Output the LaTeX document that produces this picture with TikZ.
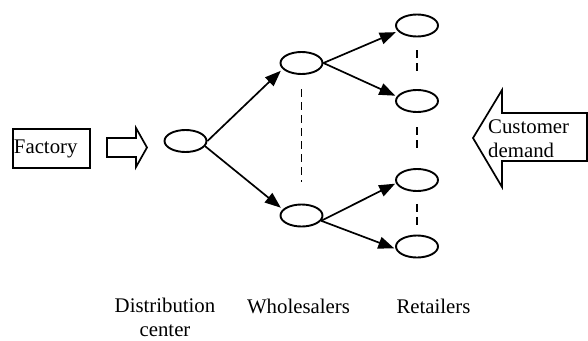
\documentclass[tikz,border=0pt]{standalone}
\usepackage{fontspec}
\setmainfont{Liberation Serif}
\usetikzlibrary{arrows.meta,shapes.geometric}
\begin{document}
\begin{tikzpicture}[x=1pt,y=-1pt,
  txt/.style={font=\fontsize{20.8}{23.5}\selectfont, inner sep=0pt},
  stage/.style={ellipse, draw, line width=1.9pt, minimum width=42pt, minimum height=22pt, inner sep=0pt},
  flow/.style={line width=1.7pt, -{Triangle[length=16pt,width=12pt]}},
  link/.style={line width=1.8pt, dash pattern=on 8pt off 5pt},
  block/.style={line width=1.7pt, line join=miter}]
\useasboundingbox (0,0) rectangle (588,340);

% supply chain stages
\node[stage] (dc) at (185.5,141) {};
\node[stage] (w1) at (301.5,63) {};
\node[stage] (w2) at (301.5,215.5) {};
\node[stage] (r1) at (417,25.5) {};
\node[stage] (r2) at (417,101) {};
\node[stage] (r3) at (417,180) {};
\node[stage] (r4) at (417,246.5) {};

% factory box
\node[txt, draw, line width=1.9pt, minimum width=77pt, minimum height=39pt,
      anchor=north west, align=left, text width=75pt, inner xsep=1pt] (factory) at (12,128) {Factory};

% block arrow from the factory
\draw[block] (107,138) -- (136,138) -- (136,128) -- (147,147.5) -- (136,167)
  -- (136,157) -- (107,157) -- cycle;

% customer demand block arrow
\draw[block] (587,113) -- (502,113) -- (502,90) -- (473,138) -- (502,187)
  -- (502,161) -- (587,161) -- cycle;
\node[txt, anchor=base west, align=left] (cd) at (488,157) {Customer\\demand};

% flows between stages
\draw[flow] (dc.east) -- ([xshift=-4pt]w1.205);
\draw[flow] (dc.-15) -- ([xshift=-4pt]w2.155);
\draw[flow] (w1.east) -- ([xshift=-3pt]r1.200);
\draw[flow] (w1.east) -- ([xshift=-2pt]r2.165);
\draw[flow] (w2.-15) -- ([xshift=-1pt]r3.190);
\draw[flow] (w2.-15) -- ([xshift=-1pt]r4.185);

% dashed continuation marks
\draw[link] ([yshift=-14.5pt]w1.south) -- ([yshift=22pt]w2.north);
\draw[link] ([yshift=-13pt]r1.south) -- ([yshift=17pt]r2.north);
\draw[link] ([yshift=-14.5pt]r2.south) -- ([yshift=20.5pt]r3.north);
\draw[link] ([yshift=-12pt]r3.south) -- ([yshift=10pt]r4.north);

% stage labels
\node[txt, anchor=base, align=center] (lbldc) at (165,336) {Distribution\\center};
\node[txt, anchor=base] (lblw) at (298.5,313) {Wholesalers};
\node[txt, anchor=base] (lblr) at (433.5,313) {Retailers};
\end{tikzpicture}
\end{document}
